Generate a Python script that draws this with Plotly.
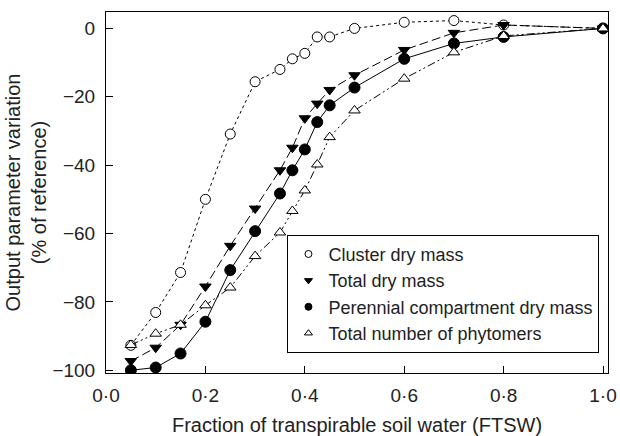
import plotly.graph_objects as go

ftsw = [0.05, 0.1, 0.15, 0.2, 0.25, 0.3, 0.35, 0.375, 0.4, 0.425, 0.45, 0.5, 0.6, 0.7, 0.8, 1.0]
cluster = [-92.7, -83.1, -71.4, -50.0, -30.9, -15.6, -12.0, -8.9, -7.3, -2.5, -2.5, 0.0, 1.8, 2.3, 1.0, 0.0]
total_dm = [-97.3, -93.4, -86.7, -75.5, -63.6, -52.7, -41.5, -34.9, -26.3, -22.0, -18.0, -13.7, -6.3, -1.3, 1.0, 0.0]
perennial = [-100.0, -99.2, -95.1, -85.8, -70.7, -59.3, -48.3, -41.5, -35.4, -27.4, -22.5, -17.3, -8.9, -4.4, -2.5, 0.0]
phytomers = [-92.6, -89.3, -86.7, -81.0, -75.8, -66.6, -59.7, -53.4, -47.4, -39.8, -31.8, -24.0, -14.7, -7.0, -2.2, 0.0]

names = ["Cluster dry mass", "Total dry mass", "Perennial compartment dry mass", "Total number of phytomers"]

x_tickvals = [0.0, 0.2, 0.4, 0.6, 0.8, 1.0]
x_ticktext = ["0·0", "0·2", "0·4", "0·6", "0·8", "1·0"]
y_tickvals = [0, -20, -40, -60, -80, -100]
y_ticktext = ["0", "\u221220", "\u221240", "\u221260", "\u221280", "\u2212100"]

styles = [
    dict(dash="dot", symbol="circle", fill="white", size=10),
    dict(dash="9px,4px", symbol="triangle-down", fill="black", size=10),
    dict(dash="solid", symbol="circle", fill="black", size=11),
    dict(dash="8px,3px,2px,3px,2px,3px", symbol="triangle-up", fill="white", size=10),
]
series = [cluster, total_dm, perennial, phytomers]

fig = go.Figure()
for name, ys, st in zip(names, series, styles):
    fig.add_trace(go.Scatter(
        x=ftsw, y=ys, mode="lines+markers", name=name, showlegend=False,
        line=dict(color="black", width=1, dash=st["dash"]),
        marker=dict(symbol=st["symbol"], size=st["size"], color=st["fill"],
                    line=dict(color="black", width=1)),
    ))
for name, st in zip(names, styles):
    fig.add_trace(go.Scatter(
        x=[None], y=[None], mode="markers", name=name, showlegend=True,
        marker=dict(symbol=st["symbol"], size=7, color=st["fill"],
                    line=dict(color="black", width=1)),
    ))

font = "Liberation Sans, Arial, sans-serif"
fig.update_layout(
    width=620, height=436,
    margin=dict(l=106, r=12, t=12, b=63),
    paper_bgcolor="white", plot_bgcolor="white",
    font=dict(family=font, size=18, color="#222"),
    legend=dict(x=0.983, y=0.056, xanchor="right", yanchor="bottom",
                bordercolor="black", borderwidth=1, bgcolor="white",
                font=dict(size=18), tracegroupgap=0),
)
fig.update_xaxes(
    range=[0, 1.01], tickvals=x_tickvals, ticktext=x_ticktext, tickfont=dict(size=19),
    ticks="inside", ticklen=7, tickcolor="black", showline=True, linecolor="black",
    linewidth=1, mirror=True, showgrid=False, zeroline=False, ticklabelstandoff=5,
    automargin=False,
    title=dict(text="Fraction of transpirable soil water (FTSW)", standoff=14, font=dict(size=20)),
)
fig.update_yaxes(
    range=[-100.8, 4.8], tickvals=y_tickvals, ticktext=y_ticktext, tickfont=dict(size=19),
    ticks="inside", ticklen=7, tickcolor="black", showline=True, linecolor="black",
    linewidth=1, mirror=True, showgrid=False, zeroline=False, ticklabelstandoff=6,
    automargin=False,
    title=dict(text="Output parameter variation<br>(% of reference)", standoff=0, font=dict(size=20)),
)
fig.write_html("out.html")
